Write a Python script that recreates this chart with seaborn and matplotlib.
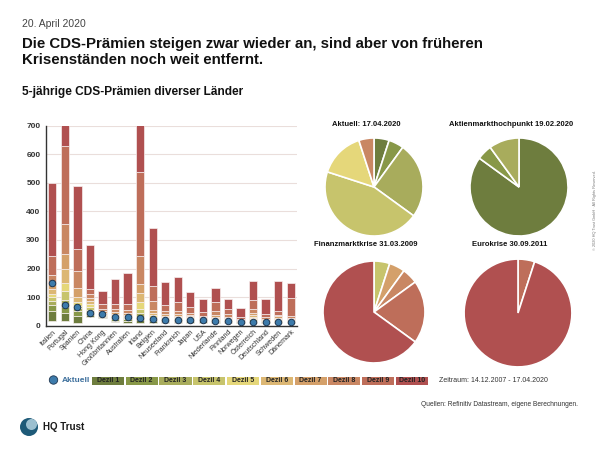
import numpy as np
import pandas as pd
import matplotlib
matplotlib.use("Agg")
import matplotlib.pyplot as plt
from matplotlib.patches import Rectangle, Circle
import seaborn as sns

# Länder und Dezilgrenzen (Min, 10%, ..., 90%, Max) der 5J-CDS-Prämien
laender = ["Italien", "Portugal", "Spanien", "China", "Hong Kong", "Großbritannien",
           "Australien", "Irland", "Belgien", "Neuseeland", "Frankreich", "Japan", "USA",
           "Niederlande", "Finnland", "Norwegen", "Österreich", "Deutschland",
           "Schweden", "Dänemark"]
p0 = [16, 16, 11, 29, 28, 12, 10, 10, 9, 8, 8, 9, 11, 8, 9, 8, 8, 8, 8, 8]
p10 = [50, 46, 35, 37, 31, 18, 16, 20, 15, 13, 13, 15, 16, 14, 14, 11, 14, 11, 12, 11]
p20 = [72, 67, 50, 45, 33, 23, 22, 30, 20, 18, 18, 20, 19, 18, 17, 13, 18, 14, 15, 13]
p30 = [88, 90, 61, 55, 36, 27, 26, 43, 25, 22, 22, 23, 21, 21, 19, 15, 22, 16, 18, 15]
p40 = [100, 121, 70, 65, 39, 32, 30, 60, 31, 26, 26, 26, 23, 24, 21, 16, 26, 18, 21, 18]
p50 = [112, 148, 84, 75, 42, 37, 34, 84, 37, 30, 30, 29, 25, 28, 24, 18, 31, 20, 24, 21]
p60 = [128, 198, 100, 85, 46, 42, 39, 113, 45, 35, 35, 33, 27, 32, 27, 19, 37, 22, 28, 24]
p70 = [148, 251, 131, 96, 50, 48, 45, 146, 55, 42, 42, 38, 30, 38, 31, 21, 45, 25, 33, 28]
p80 = [177, 356, 193, 111, 57, 57, 55, 244, 88, 52, 52, 45, 35, 53, 41, 24, 60, 30, 38, 34]
p90 = [244, 629, 268, 127, 76, 76, 76, 539, 139, 71, 82, 67, 48, 84, 60, 32, 89, 41, 51, 96]
p100 = [498, 1500, 490, 282, 123, 163, 183, 1200, 341, 153, 171, 118, 92, 132, 93, 62, 158, 92, 158, 148]
aktuell = [148, 72, 66, 44, 42, 29, 29, 27, 23, 21, 21, 21, 19, 16, 16, 14, 14, 12, 12, 12]

dezil_labels = [f"Dezil {i}" for i in range(1, 11)]
dezil_farben = ["#6e7d3e", "#889848", "#a8ac5c", "#c7c46c", "#e5d77a",
                "#dcb774", "#d4a06a", "#c98763", "#be6e5a", "#b05050"]

# Kreisdiagramme: Anzahl Länder je Dezil
pie_titel = ["Aktuell: 17.04.2020", "Aktienmarkthochpunkt 19.02.2020",
             "Finanzmarktkrise 31.03.2009", "Eurokrise 30.09.2011"]
pie_aktuell = {"Dezil 1": 1, "Dezil 2": 1, "Dezil 3": 5, "Dezil 4": 9, "Dezil 5": 3, "Dezil 8": 1}
pie_hoch = {"Dezil 1": 17, "Dezil 2": 1, "Dezil 3": 2}
pie_fk = {"Dezil 4": 1, "Dezil 7": 1, "Dezil 8": 1, "Dezil 9": 4, "Dezil 10": 13}
pie_ek = {"Dezil 9": 1, "Dezil 10": 19}

sns.set_theme(style="white")
plt.rcParams["font.family"] = ["Liberation Sans", "DejaVu Sans"]
narrow = ["Liberation Sans Narrow", "Liberation Sans", "DejaVu Sans"]

W, H = 600, 450
fig = plt.figure(figsize=(6, 4.5), dpi=100)


def fx(x):
    return x / W


def fy(y):
    return 1 - y / H


# Balkendiagramm
ax = fig.add_axes([fx(46), fy(325.7), (297 - 46) / W, 200 / H])
grenzen = [p0, p10, p20, p30, p40, p50, p60, p70, p80, p90, p100]
for i in range(10):
    unten = np.array(grenzen[i])
    oben = np.array(grenzen[i + 1])
    sns.barplot(x=laender, y=oben - unten, bottom=unten, color=dezil_farben[i],
                width=0.66, errorbar=None, edgecolor="#f6eeee", linewidth=0.5,
                saturation=1, ax=ax, zorder=2)
sns.scatterplot(x=laender, y=aktuell, color="#3d7bab", edgecolor="#1d3550",
                linewidth=0.7, s=22, ax=ax, zorder=5)
ax.set_ylim(0, 700)
ax.set_xlim(-0.5, len(laender) - 0.5)
ax.set_yticks(range(0, 701, 100))
ax.yaxis.grid(True, color="#eadedb", linewidth=0.8)
ax.set_axisbelow(True)
for s in ["top", "right"]:
    ax.spines[s].set_visible(False)
for s in ["left", "bottom"]:
    ax.spines[s].set_color("#333333")
    ax.spines[s].set_linewidth(1.0)
ax.tick_params(axis="y", length=0, pad=4, labelsize=6)
ax.tick_params(axis="x", length=0, pad=2)
for t in ax.get_yticklabels():
    t.set_fontweight("bold")
    t.set_color("#333333")
ax.set_xticks(range(len(laender)))
ax.set_xticklabels(laender, rotation=45, ha="right", rotation_mode="anchor",
                   fontsize=5.1, family=narrow, color="#333333")
ax.set_xlabel("")
ax.set_ylabel("")


# Kreisdiagramme
def pie(cx, cy, r, daten, titel, ty):
    pa = fig.add_axes([fx(cx - r), fy(cy + r), 2 * r / W, 2 * r / H])
    farben = [dezil_farben[dezil_labels.index(k)] for k in daten]
    pa.pie(list(daten.values()), colors=farben, startangle=90, counterclock=False,
           wedgeprops=dict(edgecolor="white", linewidth=1.2))
    pa.set_xlim(-1.02, 1.02)
    pa.set_ylim(-1.02, 1.02)
    fig.text(fx(cx - 8), fy(ty), titel, ha="center", va="center", fontsize=5.5,
             fontweight="bold", family=narrow, color="#111111")


pie(374, 187, 50, pie_aktuell, pie_titel[0], 125)
pie(519, 187, 50, pie_hoch, pie_titel[1], 125)
pie(374, 312, 52, pie_fk, pie_titel[2], 245)
pie(518, 313, 55, pie_ek, pie_titel[3], 245)

# Texte oben
fig.text(fx(22), fy(24), "20. April 2020", fontsize=7.5, color="#444444", va="center")
fig.text(fx(22), fy(52), "Die CDS-Prämien steigen zwar wieder an, sind aber von früheren\n"
         "Krisenständen noch weit entfernt.", fontsize=10.8, fontweight="bold",
         color="#111111", va="center", linespacing=1.12)
fig.text(fx(22), fy(92), "5-jährige CDS-Prämien diverser Länder", fontsize=8.6,
         fontweight="bold", color="#111111", va="center")

# Legende
ov = fig.add_axes([0, 0, 1, 1], zorder=-1)
ov.set_xlim(0, W)
ov.set_ylim(H, 0)
ov.axis("off")
ov.add_patch(Circle((53.5, 380), 4.2, facecolor="#3d7bab", edgecolor="#1d3550", linewidth=0.6))
ov.text(62, 380.5, "Aktuell", fontsize=6, color="#3d6f9c", fontweight="bold",
        va="center", family=narrow)
x0 = 91.7
for i in range(10):
    ov.add_patch(Rectangle((x0 + i * 33.8, 376.5), 32.2, 8, facecolor=dezil_farben[i],
                           edgecolor="none"))
    ov.text(x0 + i * 33.8 + 16.1, 380.5, dezil_labels[i], fontsize=5, fontweight="bold",
            ha="center", va="center", family=narrow, color="#222222")
ov.text(439, 380.5, "Zeitraum: 14.12.2007 - 17.04.2020", fontsize=5, va="center",
        family=narrow, color="#333333")
ov.text(578, 404, "Quellen: Refinitiv Datastream, eigene Berechnungen.", fontsize=4.8,
        ha="right", va="center", family=narrow, color="#333333")
ov.text(595, 210, "© 2020 HQ Trust GmbH · All Rights Reserved.", fontsize=2.8,
        rotation=90, ha="center", va="center", color="#777777")

# Logo
ov.add_patch(Circle((29, 427), 9, facecolor="#1e5a78", edgecolor="none"))
ov.add_patch(Circle((31.5, 424.5), 5.5, facecolor="#9cc0d0", edgecolor="none"))
ov.text(43, 427.5, "HQ Trust", fontsize=7, fontweight="bold", va="center", color="#1a1a1a")

fig.savefig("out.png", dpi=100)
